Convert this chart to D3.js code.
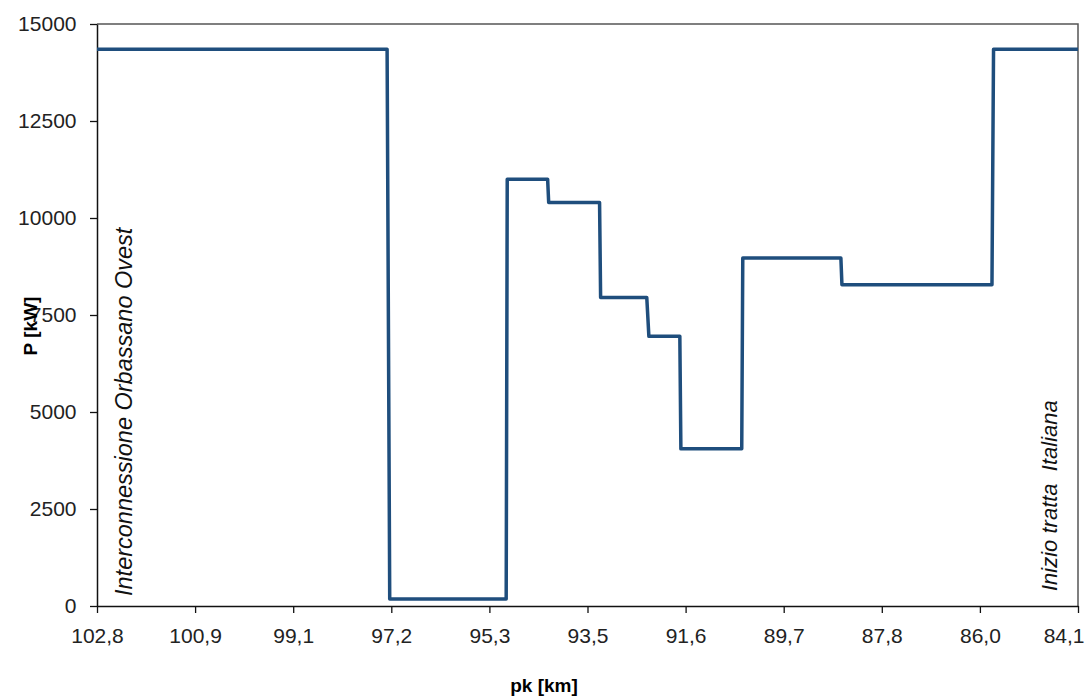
<!DOCTYPE html>
<html><head><meta charset="utf-8">
<script src="https://cdn.jsdelivr.net/npm/d3@7"></script>
<style>body{margin:0;background:#fff}svg{display:block}</style>
</head><body>
<svg id="c" width="1090" height="697"></svg>
<script>
const pk = [102.8, 97.27, 97.22, 95.0, 94.98, 94.21, 94.19, 93.22, 93.20, 92.32, 92.28, 91.69, 91.67, 90.51, 90.49, 88.62, 88.60, 85.74, 85.71, 84.1];
const power = [14350, 14350, 180, 180, 11000, 11000, 10400, 10400, 7950, 7950, 6950, 6950, 4050, 4050, 8970, 8970, 8280, 8280, 14350, 14350];
const xTicks = [102.8, 100.93, 99.06, 97.19, 95.32, 93.45, 91.58, 89.71, 87.84, 85.97, 84.1];
const yTicks = [0, 2500, 5000, 7500, 10000, 12500, 15000];
const labelStart = "Interconnessione Orbassano Ovest";
const labelEnd = "Inizio tratta\u00A0 Italiana";

const W = 1090, H = 697, m = {l: 97, r: 12, t: 24, b: 91};
const svg = d3.select("#c");
const x = d3.scaleLinear().domain([102.8, 84.1]).range([m.l, W - m.r]);
const y = d3.scaleLinear().domain([0, 15000]).range([H - m.b, m.t]);
const font = "Liberation Sans, Arial, sans-serif";

// frame top/right
svg.append("path").attr("d", `M${m.l},${m.t}H${W - m.r}V${H - m.b}`)
  .attr("fill", "none").attr("stroke", "#555").attr("stroke-width", 1.5);

const xa = svg.append("g").attr("transform", `translate(0,${H - m.b})`)
  .call(d3.axisBottom(x).tickValues(xTicks).tickSize(7).tickSizeOuter(0)
    .tickFormat(d => d3.format(".1f")(d).replace(".", ",")));
const ya = svg.append("g").attr("transform", `translate(${m.l},0)`)
  .call(d3.axisLeft(y).tickValues(yTicks).tickSize(7).tickSizeOuter(0).tickFormat(d3.format("d")));
[xa, ya].forEach(g => {
  g.select(".domain").attr("stroke", "#111").attr("stroke-width", 1.5);
  g.selectAll(".tick line").attr("stroke", "#111").attr("stroke-width", 1.3);
  g.selectAll("text").attr("font-family", font).attr("font-size", 21).attr("fill", "#222");
});
xa.selectAll("text").attr("dy", "1.3em");
xa.selectAll(".tick").filter(d => d === 84.1).select("text")
  .attr("text-anchor", "end").attr("x", 6);
ya.selectAll("text").attr("dx", "-0.5em");

const line = d3.line().x((d, i) => x(pk[i])).y(d => y(d));
svg.append("path").datum(power).attr("d", line)
  .attr("fill", "none").attr("stroke", "#1f4e7d").attr("stroke-width", 3.5).attr("stroke-linejoin", "round");

svg.append("text").attr("x", 544).attr("y", 692).attr("text-anchor", "middle")
  .attr("font-family", font).attr("font-weight", "bold").attr("font-size", 19).text("pk [km]");
svg.append("text").attr("transform", "translate(37,326) rotate(-90)").attr("text-anchor", "middle")
  .attr("font-family", font).attr("font-weight", "bold").attr("font-size", 19).text("P [kW]");

svg.append("text").attr("transform", `translate(${x(102.8) + 35},596) rotate(-90)`)
  .attr("font-family", font).attr("font-style", "italic").attr("font-size", 23.5).attr("fill", "#111").text(labelStart);
svg.append("text").attr("transform", `translate(${x(84.1) - 21},591) rotate(-90)`)
  .attr("font-family", font).attr("font-style", "italic").attr("font-size", 22).attr("fill", "#111").text(labelEnd);
</script>
</body></html>
